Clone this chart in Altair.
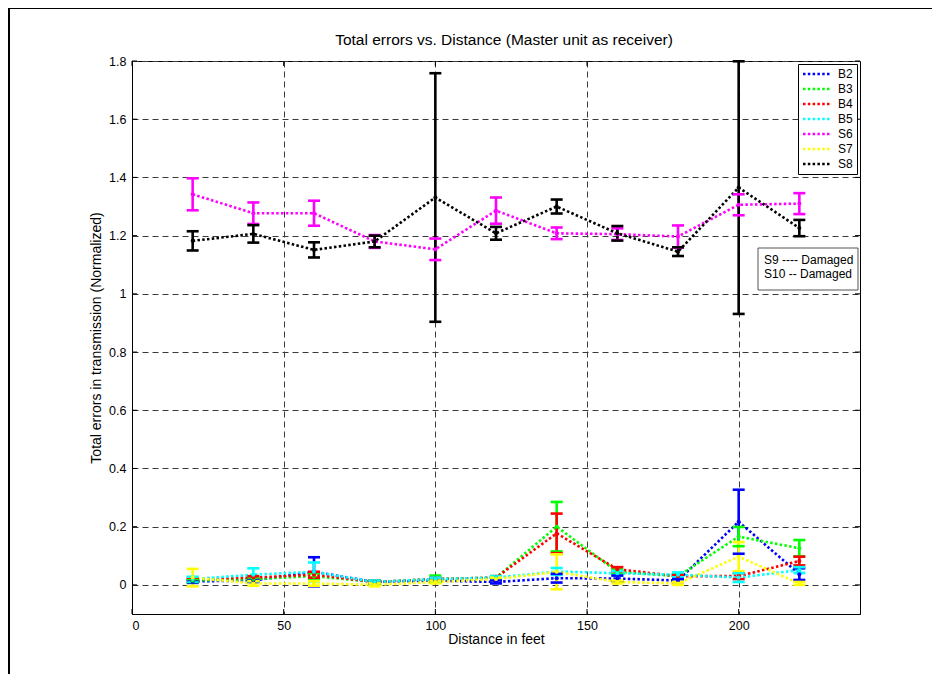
import altair as alt
import pandas as pd

# ---- data ----
distance = [20, 40, 60, 80, 100, 120, 140, 160, 180, 200, 220]
series_names = ["B2", "B3", "B4", "B5", "S6", "S7", "S8"]
series_colors = ["#0000ff", "#00ff00", "#ff0000", "#00ffff", "#ff00ff", "#ffff00", "#000000"]

B2 = [0.012, 0.015, 0.045, 0.010, 0.015, 0.010, 0.023, 0.022, 0.015, 0.217, 0.037]
B2_err = [0.005, 0.005, 0.050, 0.005, 0.005, 0.005, 0.015, 0.010, 0.005, 0.110, 0.020]
B3 = [0.015, 0.020, 0.030, 0.010, 0.020, 0.025, 0.200, 0.045, 0.030, 0.166, 0.126]
B3_err = [0.005, 0.005, 0.010, 0.005, 0.012, 0.005, 0.085, 0.008, 0.008, 0.033, 0.028]
B4 = [0.020, 0.025, 0.035, 0.010, 0.020, 0.025, 0.177, 0.054, 0.030, 0.030, 0.082]
B4_err = [0.005, 0.005, 0.010, 0.005, 0.005, 0.005, 0.068, 0.007, 0.005, 0.010, 0.015]
B5 = [0.020, 0.035, 0.045, 0.010, 0.020, 0.025, 0.046, 0.040, 0.035, 0.025, 0.051]
B5_err = [0.008, 0.022, 0.032, 0.005, 0.005, 0.005, 0.012, 0.008, 0.008, 0.015, 0.010]
S6 = [1.342, 1.277, 1.277, 1.180, 1.153, 1.286, 1.208, 1.205, 1.197, 1.306, 1.310]
S6_err = [0.055, 0.037, 0.043, 0.022, 0.037, 0.045, 0.020, 0.020, 0.038, 0.036, 0.036]
S7 = [0.025, 0.005, 0.005, 0.000, 0.010, 0.020, 0.045, 0.010, 0.005, 0.097, 0.005]
S7_err = [0.030, 0.008, 0.008, 0.005, 0.005, 0.005, 0.060, 0.005, 0.005, 0.050, 0.005]
S8 = [1.182, 1.206, 1.151, 1.180, 1.331, 1.208, 1.300, 1.208, 1.145, 1.365, 1.226]
S8_err = [0.033, 0.030, 0.026, 0.020, 0.427, 0.022, 0.024, 0.025, 0.015, 0.434, 0.028]

x_ticks = [0, 50, 100, 150, 200]
y_ticks = [0, 0.2, 0.4, 0.6, 0.8, 1.0, 1.2, 1.4, 1.6, 1.8]
notes = ["S9 ---- Damaged", "S10 -- Damaged"]
title_text = "Total errors vs. Distance (Master unit as receiver)"

values = [B2, B3, B4, B5, S6, S7, S8]
errors = [B2_err, B3_err, B4_err, B5_err, S6_err, S7_err, S8_err]

rows = []
for k, (name, vals, errs) in enumerate(zip(series_names, values, errors)):
    for d, v, e in zip(distance, vals, errs):
        rows.append({"series": name, "order": k, "x": d, "y": v,
                     "lo": v - e, "hi": v + e})
df = pd.DataFrame(rows)

W, H = 728, 553
FONT = "Liberation Sans"

xs = alt.Scale(domain=[0, 240], nice=False, zero=False)
ys = alt.Scale(domain=[-0.1, 1.8], nice=False, zero=False)
cs = alt.Scale(domain=series_names, range=series_colors)

x_axis = alt.Axis(values=x_ticks, grid=True, ticks=False, labelPadding=5,
                  title="Distance in feet", titlePadding=1)
y_axis = alt.Axis(values=y_ticks, grid=True, ticks=False, labelPadding=6,
                  format="~g", title="Total errors in transmission (Normalized)",
                  titlePadding=5)

legend = alt.Legend(
    title=None, orient="none", legendX=666, legendY=3,
    symbolType="M-3,0H3", symbolSize=87, symbolStrokeWidth=2.5,
    symbolDash=[2.5, 2.3], symbolFillColor="transparent",
    symbolOffset=9, labelOffset=15, padding=4, rowPadding=3,
    strokeColor="black", fillColor="white", cornerRadius=0,
    labelFont=FONT, labelFontSize=12, labelColor="black",
)

base = alt.Chart(df)

lines = base.mark_line(strokeDash=[2.5, 2.3], strokeWidth=2.6, strokeCap="butt").encode(
    x=alt.X("x:Q", scale=xs, axis=x_axis),
    y=alt.Y("y:Q", scale=ys, axis=y_axis),
    color=alt.Color("series:N", scale=cs, legend=legend),
    order="order:Q",
)

pts = base.mark_point(filled=True, size=16, opacity=1).encode(
    x=alt.X("x:Q", scale=xs), y=alt.Y("y:Q", scale=ys),
    color=alt.Color("series:N", scale=cs, legend=None),
)

bars = base.mark_rule(strokeWidth=2.6).encode(
    x=alt.X("x:Q", scale=xs), y=alt.Y("lo:Q", scale=ys), y2="hi:Q",
    color=alt.Color("series:N", scale=cs, legend=None),
)
cap_lo = base.mark_tick(orient="horizontal", size=12, thickness=2.6, opacity=1).encode(
    x=alt.X("x:Q", scale=xs), y=alt.Y("lo:Q", scale=ys),
    color=alt.Color("series:N", scale=cs, legend=None),
)
cap_hi = base.mark_tick(orient="horizontal", size=12, thickness=2.6, opacity=1).encode(
    x=alt.X("x:Q", scale=xs), y=alt.Y("hi:Q", scale=ys),
    color=alt.Color("series:N", scale=cs, legend=None),
)

# inward tick marks (MATLAB style)
ytdf = pd.DataFrame({"t": y_ticks})
xtdf = pd.DataFrame({"t": x_ticks})
yt_left = alt.Chart(ytdf).mark_rule(color="black", strokeWidth=1).encode(
    y=alt.Y("t:Q", scale=ys), x=alt.value(0), x2=alt.value(5))
yt_right = alt.Chart(ytdf).mark_rule(color="black", strokeWidth=1).encode(
    y=alt.Y("t:Q", scale=ys), x=alt.value(W - 5), x2=alt.value(W))
xt_bot = alt.Chart(xtdf).mark_rule(color="black", strokeWidth=1).encode(
    x=alt.X("t:Q", scale=xs), y=alt.value(H - 5), y2=alt.value(H))
xt_top = alt.Chart(xtdf).mark_rule(color="black", strokeWidth=1).encode(
    x=alt.X("t:Q", scale=xs), y=alt.value(0), y2=alt.value(5))

# annotation box
ann = pd.DataFrame({"n": [0]})
box = alt.Chart(ann).mark_rect(fill="white", stroke="#555555", strokeWidth=1).encode(
    x=alt.value(626), x2=alt.value(726), y=alt.value(187), y2=alt.value(229))
note1 = alt.Chart(ann).mark_text(align="left", baseline="middle", font=FONT,
                                 fontSize=12, color="black", text=notes[0]).encode(
    x=alt.value(632), y=alt.value(199))
note2 = alt.Chart(ann).mark_text(align="left", baseline="middle", font=FONT,
                                 fontSize=12, color="black", text=notes[1]).encode(
    x=alt.value(632), y=alt.value(213))

# chart title as a text mark above the plot
title_mark = alt.Chart(ann).mark_text(align="center", baseline="middle", font=FONT,
                                      fontSize=15.5, color="black", text=title_text).encode(
    x=alt.value(W / 2 + 8), y=alt.value(-21))

# figure frame (left & top edges)
frame_left = alt.Chart(ann).mark_rule(color="black", strokeWidth=2).encode(
    x=alt.value(-123), y=alt.value(-53), y2=alt.value(H + 60))
frame_top = alt.Chart(ann).mark_rule(color="black", strokeWidth=2).encode(
    x=alt.value(-124), x2=alt.value(W + 80), y=alt.value(-53))

chart = alt.layer(
    frame_left, frame_top, title_mark,
    lines, bars, cap_lo, cap_hi, pts,
    yt_left, yt_right, xt_bot, xt_top,
    box, note1, note2,
).properties(
    width=W, height=H,
    autosize=alt.AutoSizeParams(type="none"),
    padding={"left": 124, "top": 53, "right": 72, "bottom": 63},
).configure_view(
    stroke="black", strokeWidth=1
).configure_axis(
    labelFont=FONT, labelFontSize=12.5, labelColor="black",
    titleFont=FONT, titleFontSize=14, titleFontWeight="normal", titleColor="black",
    domainColor="black", domainWidth=1,
    gridColor="#3a3a3a", gridDash=[6, 4], gridWidth=1, gridOpacity=1,
)

chart.save("out.html", embed_options={"renderer": "svg", "actions": False})
